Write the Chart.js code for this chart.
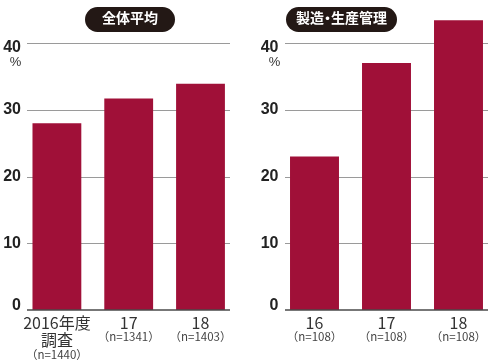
<!DOCTYPE html>
<html>
<head>
<meta charset="utf-8">
<script src="https://cdn.jsdelivr.net/npm/chart.js@4"></script>
<style>
  body { margin: 0; background: #fff; }
  .panel { position: absolute; top: 0; width: 250px; height: 364px; }
  .pill {
    position: absolute; top: 7px; height: 25px; line-height: 25px;
    background: #231815; color: #fff; border-radius: 13px; text-align: center;
    font: bold 14px 'Noto Sans CJK JP', sans-serif;
  }
</style>
</head>
<body>
<div class="panel" style="left:0"><canvas id="left" width="250" height="364"></canvas></div>
<div class="panel" style="left:250px"><canvas id="right" width="250" height="364"></canvas></div>
<div class="pill" style="left:85px;width:90px">全体平均</div>
<div class="pill" style="left:286px;width:111px;font-feature-settings:'palt'">製造・生産管理</div>
<script>
// データ
const leftTitle = '全体平均';
const leftLabels = [['2016年度', '調査'], '17', '18'];
const leftN = [['', '（n=1440）'], '（n=1341）', '（n=1403）'];
const leftValues = [28.0, 31.7, 33.9];

const rightTitle = '製造・生産管理';
const rightLabels = ['16', '17', '18'];
const rightN = ['（n=108）', '（n=108）', '（n=108）'];
const rightValues = [23.0, 37.0, 43.4];

const yTicks = [0, 10, 20, 30, 40];
const barColor = '#a01038';

// 横線（グリッド）を少し内側に描く
const gridPlugin = {
    id: 'insetGrid',
    beforeDatasetsDraw(chart, args, opts) {
        const ctx = chart.ctx;
        const y = chart.scales.y;
        ctx.save();
        ctx.strokeStyle = '#9a9a9a';
        ctx.lineWidth = 1;
        yTicks.forEach(v => {
            if (v === 0) return;
            const py = Math.round(y.getPixelForValue(v)) + 0.5;
            ctx.beginPath();
            ctx.moveTo(opts.from, py);
            ctx.lineTo(opts.to, py);
            ctx.stroke();
        });
        // %
        ctx.fillStyle = '#333';
        ctx.font = '13px "Liberation Sans", sans-serif';
        ctx.textAlign = 'center';
        ctx.textBaseline = 'middle';
        ctx.fillText('%', opts.pct, y.getPixelForValue(40) + 19);
        ctx.restore();
    },
    afterDatasetsDraw(chart, args, opts) {
        const ctx = chart.ctx;
        const py = chart.scales.y.getPixelForValue(0);
        ctx.save();
        ctx.strokeStyle = '#4a4a4a';
        ctx.lineWidth = 1.5;
        ctx.beginPath();
        ctx.moveTo(opts.from, py);
        ctx.lineTo(opts.to, py);
        ctx.stroke();
        ctx.restore();
    }
};

// 40 は線の下、0 は線の上に寄せる
function yLabel(v) {
    if (v === 40) return ['', '40'];
    if (v === 0) return ['0', ''];
    return String(v);
}

function makeChart(id, labels, nLabels, values, cfg) {
    const ctx = document.getElementById(id).getContext('2d');
    return new Chart(ctx, {
        type: 'bar',
        data: {
            labels: labels,
            datasets: [{
                data: values,
                backgroundColor: barColor,
                borderWidth: 0,
                barPercentage: 0.68,
                categoryPercentage: 1
            }]
        },
        plugins: [gridPlugin],
        options: {
            responsive: false,
            animation: false,
            events: [],
            layout: { padding: { top: 9, right: cfg.padRight, left: 0, bottom: 0 } },
            plugins: {
                legend: { display: false },
                tooltip: { enabled: false },
                insetGrid: { from: cfg.gridFrom, to: cfg.gridTo, pct: cfg.pctX }
            },
            scales: {
                y: {
                    min: 0,
                    max: 45.1,
                    afterBuildTicks: s => { s.ticks = yTicks.map(v => ({ value: v })); },
                    afterFit: s => { s.width = cfg.yWidth; },
                    grid: { display: false, drawTicks: false },
                    border: { display: false },
                    ticks: {
                        padding: 0,
                        color: '#222',
                        callback: v => yLabel(v),
                        font: { family: '"Liberation Sans Narrow", "Liberation Sans"', size: 16, weight: 'bold', lineHeight: '9px' }
                    }
                },
                x: {
                    offset: true,
                    afterFit: s => { s.height = 38; },
                    grid: { display: false, drawTicks: false },
                    border: { display: false },
                    ticks: {
                        padding: 4,
                        maxRotation: 0,
                        autoSkip: false,
                        color: '#333',
                        font: { family: '"Liberation Sans Narrow", "Noto Sans CJK JP"', size: 16, lineHeight: '17px' }
                    }
                },
                xn: {
                    type: 'category',
                    position: 'bottom',
                    labels: nLabels,
                    offset: true,
                    afterFit: s => { s.height = 16; },
                    grid: { display: false, drawTicks: false },
                    border: { display: false },
                    ticks: {
                        mirror: true,
                        padding: 2,
                        maxRotation: 0,
                        autoSkip: false,
                        color: '#444',
                        font: { family: '"Liberation Sans Narrow", "Noto Sans CJK JP"', size: 11.5, lineHeight: '18px' }
                    }
                }
            }
        }
    });
}

makeChart('left', leftLabels, leftN, leftValues, {
    padRight: 13.6, yWidth: 21, gridFrom: 27, gridTo: 230, pctX: 15.5
});
makeChart('right', rightLabels, rightN, rightValues, {
    padRight: 5.5, yWidth: 28.5, gridFrom: 35, gridTo: 238, pctX: 24.5
});
</script>
</body>
</html>
